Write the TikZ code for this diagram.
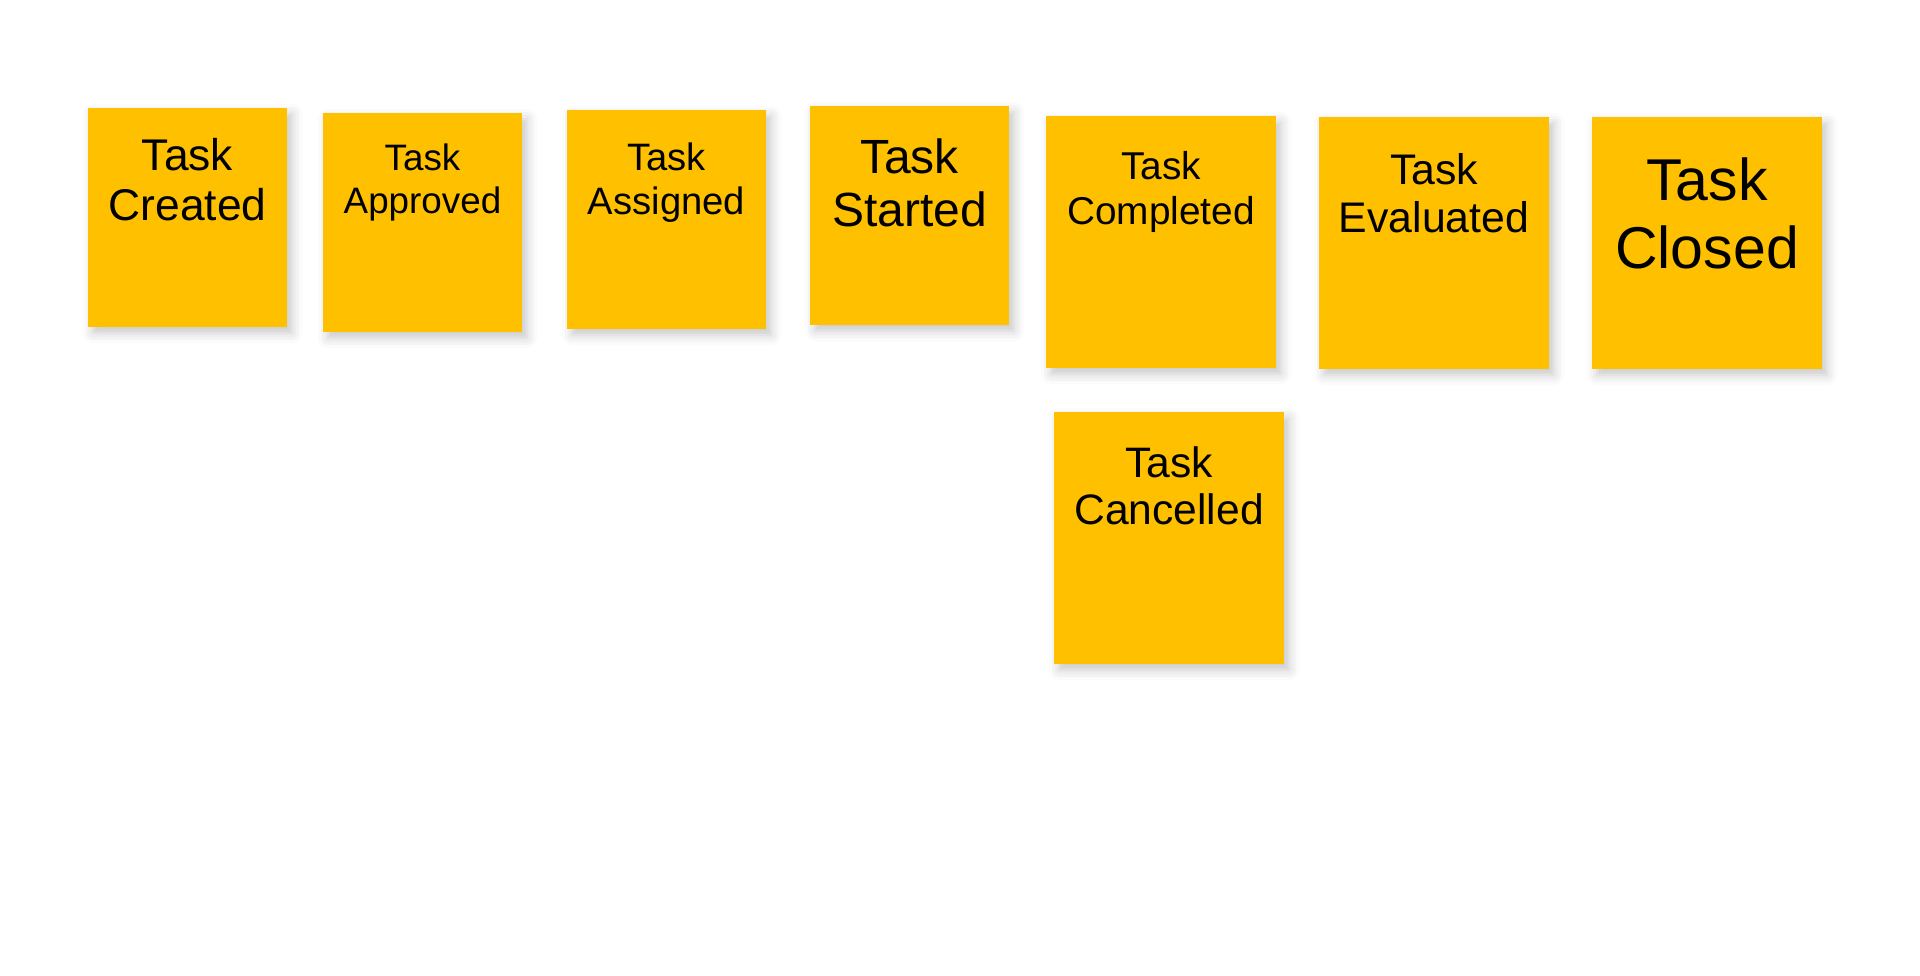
\documentclass[tikz,border=0pt]{standalone}
\usepackage{fontspec}
\setmainfont{Liberation Sans}
\usetikzlibrary{positioning,shadows.blur}
\definecolor{noteyellow}{HTML}{FFC000}

\begin{document}
\begin{tikzpicture}[
      x=0.5pt, y=-0.5pt,
      note/.style = {rectangle, fill=noteyellow, anchor=north west,
                     inner sep=0pt, outer sep=0pt,
                     blur shadow={shadow xshift=2.5pt, shadow yshift=-3pt,
                                  shadow blur radius=5pt, shadow opacity=22}},
      small note/.style = {note, minimum width=99.5pt, minimum height=109.5pt},
      big note/.style = {note, minimum width=115pt, minimum height=126pt},
      caption/.style = {anchor=north, inner sep=0pt, align=center}
    ]
    \useasboundingbox (0,0) rectangle (1920,975);

    % Notes
    \node[small note, label={[caption, yshift=-15pt,
          font=\fontsize{22.2}{25}\selectfont]north:{Task\\Created}}]
          (created) at (88,108) {};
    \node[small note, label={[caption, yshift=-15pt,
          font=\fontsize{18.4}{21.5}\selectfont]north:{Task\\Approved}}]
          (approved) at (323,113) {};
    \node[small note, label={[caption, yshift=-16pt,
          font=\fontsize{19.1}{22}\selectfont]north:{Task\\Assigned}}]
          (assigned) at (567,110) {};
    \node[small note, label={[caption, yshift=-16pt,
          font=\fontsize{24}{26.5}\selectfont]north:{Task\\Started}}]
          (started) at (810,106) {};
    \node[big note, label={[caption, yshift=-17.5pt,
          font=\fontsize{19.4}{22.3}\selectfont]north:{Task\\Completed}}]
          (completed) at (1046,116) {};
    \node[big note, label={[caption, yshift=-18pt,
          font=\fontsize{21.4}{24}\selectfont]north:{Task\\Evaluated}}]
          (evaluated) at (1319,117) {};
    \node[big note, label={[caption, yshift=-20pt,
          font=\fontsize{29.5}{34}\selectfont]north:{Task\\Closed}}]
          (closed) at (1592,117) {};
    \node[big note, below=22pt of completed, xshift=4pt,
          label={[caption, yshift=-17pt,
          font=\fontsize{21.3}{23.5}\selectfont]north:{Task\\Cancelled}}]
          (cancelled) {};
  \end{tikzpicture}
\end{document}
